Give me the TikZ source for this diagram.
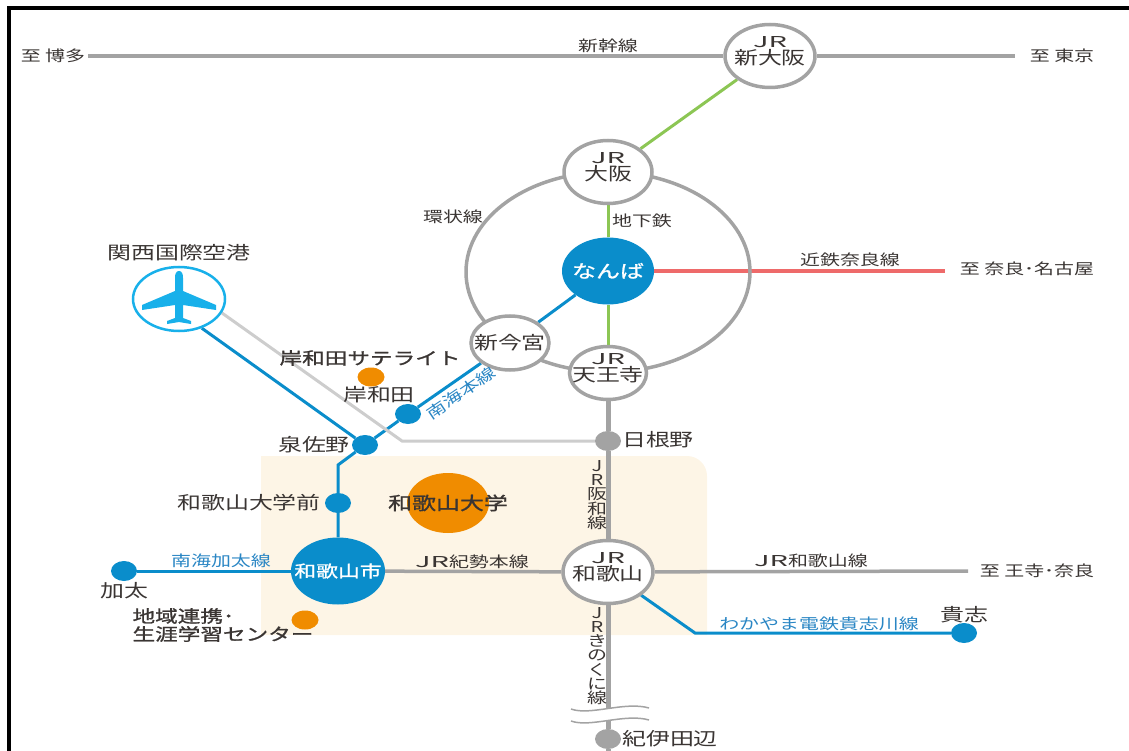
\documentclass[tikz,border=0pt]{standalone}
\usepackage{fontspec}
\setmainfont[FakeStretch=1.33]{Noto Sans CJK JP}
\newfontfamily\heavyjp[FakeStretch=1.33,FakeBold=1.2]{Noto Sans CJK JP}
\usetikzlibrary{shapes.geometric,backgrounds}
\definecolor{railgray}{HTML}{A3A3A3}
\definecolor{lightgray}{HTML}{CDCDCD}
\definecolor{nankai}{HTML}{0A8DCB}
\definecolor{subway}{HTML}{8CC654}
\definecolor{kintetsu}{HTML}{EE6A6A}
\definecolor{sky}{HTML}{18B0EA}
\definecolor{campus}{HTML}{F08C00}
\definecolor{cream}{HTML}{FDF5E6}
\definecolor{ink}{HTML}{3A3533}
\definecolor{bluetext}{HTML}{2A86C4}
% text inside an ellipse, without widening it
\newcommand{\inhub}[2]{\raisebox{#1}[0pt][0pt]{\makebox[0pt]{#2}}}
\newcommand{\jrmark}{{\fontsize{15}{15}\selectfont\scalebox{1.45}[1]{JR}}}
\newcommand{\jrhub}[1]{\inhub{8.3pt}{\jrmark}\inhub{-8.8pt}{#1}}
\begin{document}
\begin{tikzpicture}[
    x=1pt, y=-1pt,
    every node/.style={font=\fontsize{18}{16}\selectfont, text=ink, inner sep=0pt, align=center},
    small/.style={font=\fontsize{15}{17}\selectfont},
    bluelabel/.style={small, text=bluetext},
    vertlabel/.style={font=\fontsize{15}{14.3}\selectfont},
    boldlabel/.style={font=\heavyjp\fontsize{17}{18}\selectfont},
    hub/.style={ellipse, draw=railgray, line width=3.5pt, fill=white, minimum width=88pt, minimum height=63pt},
    bighub/.style={ellipse, fill=nankai, text=white, minimum width=94pt, minimum height=67pt, font=\heavyjp\fontsize{16.4}{18}\selectfont},
    stop/.style={ellipse, fill=nankai, minimum width=26pt, minimum height=20pt},
    graystop/.style={ellipse, fill=railgray, minimum width=26pt, minimum height=20pt},
    campusdot/.style={ellipse, fill=campus, minimum width=27pt, minimum height=19pt},
    rail/.style={draw=railgray, line width=3.5pt},
    mainrail/.style={draw=railgray, line width=5pt},
    subwayline/.style={draw=subway, line width=3pt},
    nankailine/.style={draw=nankai, line width=3pt}
]
\useasboundingbox (0,0) rectangle (1129,751);
% frame
\draw[black, line width=4pt] (9,751) -- (9,8) -- (1129,8);
% loop line
\draw[railgray, line width=3.5pt] (608,272) ellipse[x radius=142, y radius=100];
% stations
\node[hub, minimum width=90pt] (shinosaka) at (770,56) {\jrhub{新大阪}};
\node[hub] (osaka) at (608,172) {\jrhub{大阪}};
\node[bighub, minimum width=92pt, font=\heavyjp\fontsize{18}{18}\selectfont] (namba) at (608,271) {\inhub{-6.8pt}{なんば}};
\node[hub, minimum width=78pt, minimum height=54pt] (shinimamiya) at (510,343) {\inhub{-6.8pt}{新今宮}};
\node[hub, minimum width=77pt, minimum height=53pt] (tennoji) at (608,373) {\jrhub{天王寺}};
\node[hub, minimum width=90pt] (jrwakayama) at (608,572) {\jrhub{和歌山}};
\node[bighub] (wakayamashi) at (338,571) {\inhub{-6.2pt}{和歌山市}};
\node[ellipse, draw=sky, line width=2.5pt, fill=white, minimum width=92pt, minimum height=64pt] (airport) at (179,299) {};
\node[stop] (kishiwada) at (408,414) {};
\node[stop] (izumisano) at (365,445) {};
\node[stop] (daigakumae) at (338,503) {};
\node[stop] (kada) at (124,571) {};
\node[stop] (kishi) at (964,633) {};
\node[graystop] (hineno) at (608,441) {};
\node[graystop] (tanabe) at (608,739) {};
\node[ellipse, fill=campus, minimum width=82pt, minimum height=60pt, font=\heavyjp\fontsize{18}{18}\selectfont] (campusmain) at (448,503) {\inhub{-6.8pt}{和歌山大学}};
\node[campusdot] (satellite) at (371,377) {};
\node[campusdot] (lifelong) at (305,620) {};
% free ends
\node[small] (tohakata) at (53,56) {至 博多};
\node[small] (totokyo) at (1062,56) {至 東京};
\coordinate (shinkl) at (88,56);
\coordinate (shinkr) at (1015,56);
\coordinate (kintetsuend) at (945,271);
\coordinate (jrwkend) at (968,571);
\coordinate (bendnankai) at (338,465);
\coordinate (bendgray) at (402,441);
\coordinate (bendkishi) at (695,633);
\coordinate (bottomend) at (608,751);
% lines
\begin{scope}[on background layer]
\fill[cream] (261,456) -- (687,456) arc[start angle=90, end angle=0, x radius=20, y radius=-20] -- (707,635) -- (261,635) -- cycle;
\draw[rail] (shinkl) -- (shinosaka);
\draw[rail] (shinosaka) -- (shinkr);
\draw[subwayline] (shinosaka) -- (osaka);
\draw[subwayline] (osaka) -- (namba);
\draw[subwayline] (namba) -- (tennoji);
\draw[draw=kintetsu, line width=3pt] (namba) -- (kintetsuend);
\draw[nankailine] (namba) -- (shinimamiya);
\draw[nankailine] (shinimamiya) -- (kishiwada);
\draw[nankailine] (kishiwada) -- (izumisano) -- (bendnankai) -- (daigakumae) -- (wakayamashi);
\draw[nankailine] (airport.-52) -- (izumisano);
\draw[draw=lightgray, line width=3pt] (airport.-18) -- (bendgray) -- (hineno);
\draw[nankailine] (kada) -- (wakayamashi);
\draw[nankailine] (jrwakayama) -- (bendkishi) -- (kishi);
\draw[mainrail] (tennoji) -- (hineno);
\draw[mainrail] (hineno) -- (jrwakayama);
\draw[mainrail] (jrwakayama) -- (tanabe);
\draw[mainrail] (tanabe) -- (bottomend);
\draw[rail] (wakayamashi) -- (jrwakayama);
\draw[rail] (jrwakayama) -- (jrwkend);
\end{scope}
% break mark
\fill[white] (571,709) .. controls (590,716) and (625,701) .. (649,708) -- (649,720) .. controls (625,713) and (590,728) .. (571,721) -- cycle;
\draw[railgray, line width=1.5pt] (571,709) .. controls (590,716) and (625,701) .. (649,708);
\draw[railgray, line width=1.5pt] (571,721) .. controls (590,728) and (625,713) .. (649,720);
% plane
\fill[sky] (179,271) .. controls (176,271) and (175,274) .. (175,278) -- (175,291) -- (142,305) -- (142,310) -- (175,305) -- (175,318) -- (167,321) -- (167,324) -- (179,322) -- (191,324) -- (191,321) -- (183,318) -- (183,305) -- (216,310) -- (216,305) -- (183,291) -- (183,278) .. controls (183,274) and (182,271) .. (179,271) -- cycle;
% labels
\node[small] (lbshinkansen) at (608,46) {新幹線};
\node[small] (lbloop) at (453,217) {環状線};
\node[small] (lbsubway) at (642,221) {地下鉄};
\node[small] (lbkintetsu) at (850,260) {近鉄奈良線};
\node[small] (tonara) at (1027,269) {至 奈良･名古屋};
\node (lbairport) at (179,253) {関西国際空港};
\node[boldlabel] (lbsatellite) at (370,358) {岸和田サテライト};
\node (lbkishiwada) at (379,395) {岸和田};
\node (lbizumisano) at (314,445) {泉佐野};
\node[bluelabel, rotate=34] (lbnankai) at (461,393) {南海本線};
\node (lbhineno) at (658,440) {日根野};
\node (lbmae) at (249,503) {和歌山大学前};
\node[bluelabel] (lbkadaline) at (221,561) {南海加太線};
\node (lbkada) at (124,591) {加太};
\node[boldlabel, align=left] (lblifelong) at (223,625) {地域連携･\\生涯学習センター};
\node[small] (lbkisei) at (472,562) {\jrmark 紀勢本線};
\node[small] (lbjrwk) at (811,561) {\jrmark 和歌山線};
\node[small] (tooji) at (1037,571) {至 王寺･奈良};
\node[bluelabel] (lbkishiline) at (819,624) {わかやま電鉄貴志川線};
\node (lbkishi) at (964,615) {貴志};
\node[vertlabel] (lbhanwa) at (597,495) {J\\R\\阪\\和\\線};
\node[vertlabel] (lbkinokuni) at (597,656) {J\\R\\き\\の\\く\\に\\線};
\node (lbtanabe) at (670,739) {紀伊田辺};
\end{tikzpicture}
\end{document}
